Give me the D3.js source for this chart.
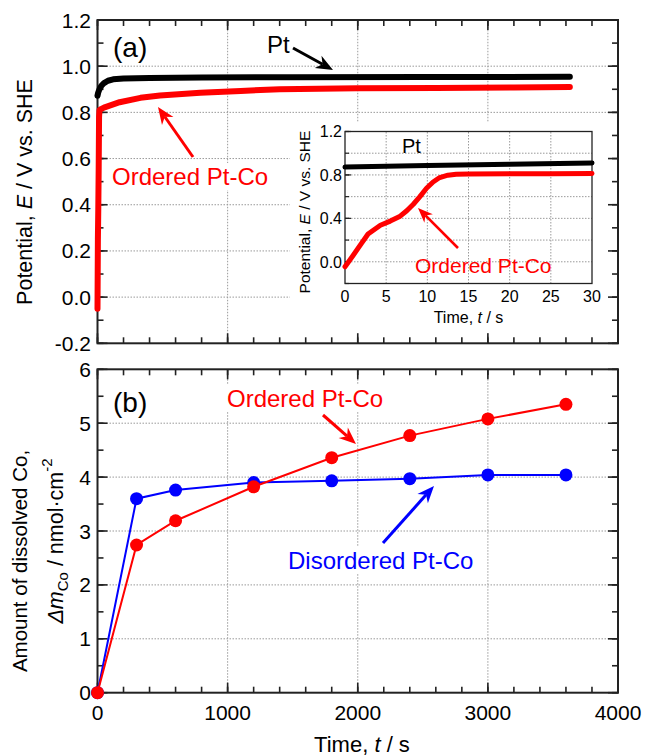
<!DOCTYPE html>
<html><head><meta charset="utf-8">
<script src="https://cdn.jsdelivr.net/npm/d3@7"></script>
<style>
body{margin:0;background:#fff}
svg{display:block}
text{font-family:"Liberation Sans",Arial,sans-serif}
</style>
</head><body>
<svg id="c" width="646" height="756"></svg>
<script>
// ---------- data ----------
// Panel (a): potential transients (time in s, potential in V vs. SHE)
const ptTime = [0, 5, 15, 30, 50, 80, 120, 200, 400, 800, 1500, 2500, 3630];
const ptE    = [0.872, 0.885, 0.9, 0.915, 0.927, 0.937, 0.943, 0.947, 0.949, 0.951, 0.952, 0.953, 0.954];
const ordTime = [0, 3, 6, 9, 12, 15, 30, 60, 170, 330, 480, 790, 1100, 1400, 2000, 2600, 3200, 3630];
const ordE    = [-0.05, 0.25, 0.38, 0.55, 0.78, 0.81, 0.815, 0.823, 0.844, 0.863, 0.873, 0.885, 0.893, 0.9, 0.904, 0.906, 0.908, 0.91];
// Inset: first 30 s
const insPtTime = [0, 10, 20, 30];
const insPtE    = [0.872, 0.886, 0.899, 0.911];
const insOrdTime = [0, 1, 2, 2.8, 4.3, 5.5, 6.7, 7.5, 8.3, 9.1, 9.9, 10.7, 11.5, 12.5, 13.5, 15, 20, 25, 30];
const insOrdE    = [-0.045, 0.06, 0.17, 0.256, 0.337, 0.375, 0.42, 0.47, 0.53, 0.6, 0.677, 0.735, 0.776, 0.798, 0.806, 0.809, 0.811, 0.812, 0.813];
// Panel (b): amount of dissolved Co
const bTime = [0, 300, 600, 1200, 1800, 2400, 3000, 3600];
const disordCo = [0, 3.6, 3.76, 3.9, 3.93, 3.97, 4.04, 4.04];
const ordCo    = [0, 2.74, 3.19, 3.82, 4.36, 4.77, 5.08, 5.35];
// ticks
const xMajor = [0, 1000, 2000, 3000, 4000];
const xMinor = d3.range(0, 4001, 200);
const yAMajor = [-0.2, 0, 0.2, 0.4, 0.6, 0.8, 1.0, 1.2];
const yAMinor = d3.range(-2, 13).map(d => d / 10);
const yBMajor = [0, 1, 2, 3, 4, 5, 6];
const yBMinor = d3.range(0, 13).map(d => d / 2);
const insXMajor = [0, 5, 10, 15, 20, 25, 30];
const insYMajor = [0, 0.4, 0.8, 1.2];
const insYMinor = [-0.2, 0, 0.2, 0.4, 0.6, 0.8, 1.0, 1.2];

// ---------- setup ----------
const svg = d3.select("#c");
const RED = "#ff0000", BLUE = "#0000ff";
const L = 97.5, R = 618;
const x = d3.scaleLinear().domain([0, 4000]).range([L, R]);
const yA = d3.scaleLinear().domain([-0.2, 1.2]).range([343.3, 20]);
const yB = d3.scaleLinear().domain([0, 6]).range([692.7, 369.3]);
const xi = d3.scaleLinear().domain([0, 30]).range([345, 592]);
const yi = d3.scaleLinear().domain([-0.2, 1.2]).range([283.5, 131.5]);

const gridColor = "#9a9a9a";
function grid(g, xs, ys, xv, yv) {
  g.selectAll(null).data(xv).enter().append("line")
    .attr("x1", d => xs(d)).attr("x2", d => xs(d))
    .attr("y1", ys.range()[0]).attr("y2", ys.range()[1])
    .attr("stroke", gridColor).attr("stroke-width", 1).attr("stroke-dasharray", "1.5,1.5");
  g.selectAll(null).data(yv).enter().append("line")
    .attr("y1", d => ys(d)).attr("y2", d => ys(d))
    .attr("x1", xs.range()[0]).attr("x2", xs.range()[1])
    .attr("stroke", gridColor).attr("stroke-width", 1).attr("stroke-dasharray", "1.5,1.5");
}

function ticks(g, xs, ys, xMaj, xMin, yMaj, yMin, maj, min, sw) {
  const [x0, x1] = xs.range(), [y0, y1] = ys.range();
  const addT = (vals, len, vertical) => {
    vals.forEach(v => {
      if (vertical) {
        const px = xs(v);
        g.append("line").attr("x1", px).attr("x2", px).attr("y1", y0).attr("y2", y0 - len).attr("stroke", "#222").attr("stroke-width", sw);
        g.append("line").attr("x1", px).attr("x2", px).attr("y1", y1).attr("y2", y1 + len).attr("stroke", "#222").attr("stroke-width", sw);
      } else {
        const py = ys(v);
        g.append("line").attr("y1", py).attr("y2", py).attr("x1", x0).attr("x2", x0 + len).attr("stroke", "#222").attr("stroke-width", sw);
        g.append("line").attr("y1", py).attr("y2", py).attr("x1", x1).attr("x2", x1 - len).attr("stroke", "#222").attr("stroke-width", sw);
      }
    });
  };
  addT(xMin, min, true); addT(xMaj, maj, true);
  addT(yMin, min, false); addT(yMaj, maj, false);
}

function frame(g, xs, ys, sw, col) {
  const [x0, x1] = xs.range(), [y0, y1] = ys.range();
  g.append("rect").attr("x", x0).attr("y", y1).attr("width", x1 - x0).attr("height", y0 - y1)
    .attr("fill", "none").attr("stroke", col).attr("stroke-width", sw);
}

function arrow(g, x1, y1, x2, y2, color, sw, hl, hw) {
  const dx = x2 - x1, dy = y2 - y1, len = Math.hypot(dx, dy);
  const ux = dx / len, uy = dy / len, nx = -uy, ny = ux;
  const bx = x2 - ux * hl, by = y2 - uy * hl;
  const mx = x2 - ux * hl * 0.7, my = y2 - uy * hl * 0.7;
  g.append("line").attr("x1", x1).attr("y1", y1).attr("x2", mx).attr("y2", my)
    .attr("stroke", color).attr("stroke-width", sw);
  g.append("path").attr("d", `M${x2},${y2}L${bx + nx * hw},${by + ny * hw}L${mx},${my}L${bx - nx * hw},${by - ny * hw}Z`)
    .attr("fill", color);
}

function label(g, txt, px, py, size, color, pad) {
  const t = g.append("text").attr("x", px).attr("y", py).style("font-size", size + "px").style("fill", color).text(txt);
  const bb = t.node().getBBox();
  g.insert("rect", () => t.node()).attr("x", bb.x - pad).attr("y", bb.y).attr("width", bb.width + 2 * pad).attr("height", bb.height).attr("fill", "#fff");
  return t;
}

// ---------- Panel (a) ----------
const ga = svg.append("g");
grid(ga, x, yA, [1000, 2000, 3000], [0, 0.2, 0.4, 0.6, 0.8, 1.0]);
// inset white backdrop
ga.append("rect").attr("x", 290).attr("y", 122).attr("width", R - 290).attr("height", 211).attr("fill", "#fff");
ticks(ga, x, yA, xMajor, xMinor, yAMajor, yAMinor, 10, 6, 1.6);
frame(ga, x, yA, 2, "#222");

const labA = svg.append("g");
label(labA, "(a)", 113, 57, 28, "#000", 8);
label(labA, "Ordered Pt-Co", 112, 185, 24, RED, 3);

const lineA = d3.line().x(d => x(d[0])).y(d => yA(d[1]));
ga.append("path").datum(d3.zip(ordTime, ordE)).attr("d", lineA)
  .attr("fill", "none").attr("stroke", RED).attr("stroke-width", 6).attr("stroke-linejoin", "round").attr("stroke-linecap", "round");
ga.append("path").datum(d3.zip(ptTime, ptE)).attr("d", lineA)
  .attr("fill", "none").attr("stroke", "#000").attr("stroke-width", 6).attr("stroke-linejoin", "round").attr("stroke-linecap", "round");

labA.raise();
labA.append("text").attr("x", 267).attr("y", 53).style("font-size", "24px").style("fill", "#000").text("Pt");
arrow(labA, 293, 48, 333, 70, "#000", 3, 17, 7);
arrow(labA, 193, 157, 158, 107, RED, 3, 17, 7);

// y labels (a)
ga.selectAll(null).data(yAMajor).enter().append("text")
  .attr("x", 91).attr("y", d => yA(d)).attr("dy", "0.36em").attr("text-anchor", "end")
  .style("font-size", "21px").text(d => d.toFixed(1));
const ta = svg.append("text").attr("transform", "translate(32,192) rotate(-90)").attr("text-anchor", "middle").style("font-size", "21.5px");
ta.append("tspan").text("Potential, ");
ta.append("tspan").style("font-style", "italic").text("E");
ta.append("tspan").text(" / V vs. SHE");

// ---------- Inset ----------
const gi = svg.append("g");
grid(gi, xi, yi, [5, 10, 15, 20, 25], [0, 0.2, 0.4, 0.6, 0.8, 1.0]);
const tickI = (vals, len, vertical) => vals.forEach(v => {
  if (vertical) {
    gi.append("line").attr("x1", xi(v)).attr("x2", xi(v)).attr("y1", yi.range()[0]).attr("y2", yi.range()[0] - len).attr("stroke", "#222").attr("stroke-width", 1.2);
  } else {
    gi.append("line").attr("y1", yi(v)).attr("y2", yi(v)).attr("x1", xi.range()[0]).attr("x2", xi.range()[0] + len).attr("stroke", "#222").attr("stroke-width", 1.2);
  }
});
tickI(insYMinor, 4, false); tickI(insYMajor, 6, false);
frame(gi, xi, yi, 1.3, "#222");
const lineI = d3.line().x(d => xi(d[0])).y(d => yi(d[1]));
gi.append("path").datum(d3.zip(insOrdTime, insOrdE)).attr("d", lineI)
  .attr("fill", "none").attr("stroke", RED).attr("stroke-width", 5).attr("stroke-linejoin", "round").attr("stroke-linecap", "round");
gi.append("path").datum(d3.zip(insPtTime, insPtE)).attr("d", lineI)
  .attr("fill", "none").attr("stroke", "#000").attr("stroke-width", 5).attr("stroke-linejoin", "round").attr("stroke-linecap", "round");
gi.selectAll(null).data(insYMajor).enter().append("text")
  .attr("x", 342).attr("y", d => yi(d)).attr("dy", "0.36em").attr("text-anchor", "end")
  .style("font-size", "16px").text(d => d.toFixed(1));
gi.selectAll(null).data(insXMajor).enter().append("text")
  .attr("x", d => xi(d)).attr("y", 302).attr("text-anchor", "middle")
  .style("font-size", "16px").text(d => d);
const txi = gi.append("text").attr("x", xi(15)).attr("y", 323).attr("text-anchor", "middle").style("font-size", "16px");
txi.append("tspan").text("Time, ");
txi.append("tspan").style("font-style", "italic").text("t");
txi.append("tspan").text(" / s");
const tyi = gi.append("text").attr("transform", "translate(310,212) rotate(-90)").attr("text-anchor", "middle").style("font-size", "15.5px");
tyi.append("tspan").text("Potential, ");
tyi.append("tspan").style("font-style", "italic").text("E");
tyi.append("tspan").text(" / V vs. SHE");
gi.append("text").attr("x", 402).attr("y", 153).style("font-size", "20px").text("Pt");
gi.append("text").attr("x", 415).attr("y", 273).style("font-size", "21px").style("fill", RED).text("Ordered Pt-Co");
arrow(gi, 458, 248, 418, 208, RED, 2.6, 15, 6);

// ---------- Panel (b) ----------
const gb = svg.append("g");
grid(gb, x, yB, [1000, 2000, 3000], [1, 2, 3, 4, 5]);
ticks(gb, x, yB, xMajor, xMinor, yBMajor, yBMinor, 10, 6, 1.6);
frame(gb, x, yB, 2, "#222");
const labB = svg.append("g");
label(labB, "(b)", 113, 412, 28, "#000", 4);
label(labB, "Ordered Pt-Co", 227, 407, 24, RED, 3);
label(labB, "Disordered Pt-Co", 288, 569, 24, BLUE, 3);

const lineB = d3.line().x(d => x(d[0])).y(d => yB(d[1]));
const series = [{v: disordCo, c: BLUE}, {v: ordCo, c: RED}];
series.forEach(s => {
  const pts = d3.zip(bTime, s.v);
  gb.append("path").datum(pts).attr("d", lineB).attr("fill", "none").attr("stroke", s.c).attr("stroke-width", 2);
  gb.selectAll(null).data(pts).enter().append("circle")
    .attr("cx", d => x(d[0])).attr("cy", d => yB(d[1])).attr("r", 6.5).attr("fill", s.c);
});
labB.raise();
arrow(labB, 323, 415, 356, 444, RED, 3, 17, 7);
arrow(labB, 383, 543, 434, 486, BLUE, 3, 17, 7);

gb.selectAll(null).data(yBMajor).enter().append("text")
  .attr("x", 91).attr("y", d => yB(d)).attr("dy", "0.36em").attr("text-anchor", "end")
  .style("font-size", "21px").text(d => d);
gb.selectAll(null).data(xMajor).enter().append("text")
  .attr("x", d => x(d)).attr("y", 720).attr("text-anchor", "middle")
  .style("font-size", "21px").text(d => d);
const txb = gb.append("text").attr("x", 362).attr("y", 752).attr("text-anchor", "middle").style("font-size", "22px");
txb.append("tspan").text("Time, ");
txb.append("tspan").style("font-style", "italic").text("t");
txb.append("tspan").text(" / s");
gb.append("text").attr("transform", "translate(27,561) rotate(-90)").attr("text-anchor", "middle").style("font-size", "20.5px")
  .text("Amount of dissolved Co,");
const t2 = gb.append("text").attr("transform", "translate(63,541) rotate(-90)").attr("text-anchor", "middle").style("font-size", "21.5px");
t2.append("tspan").style("font-style", "italic").text("Δm");
t2.append("tspan").attr("dy", 5).style("font-size", "15px").text("Co");
t2.append("tspan").attr("dy", -5).text(" / nmol·cm");
t2.append("tspan").attr("dy", -11).style("font-size", "15px").text("-2");
</script>
</body></html>
